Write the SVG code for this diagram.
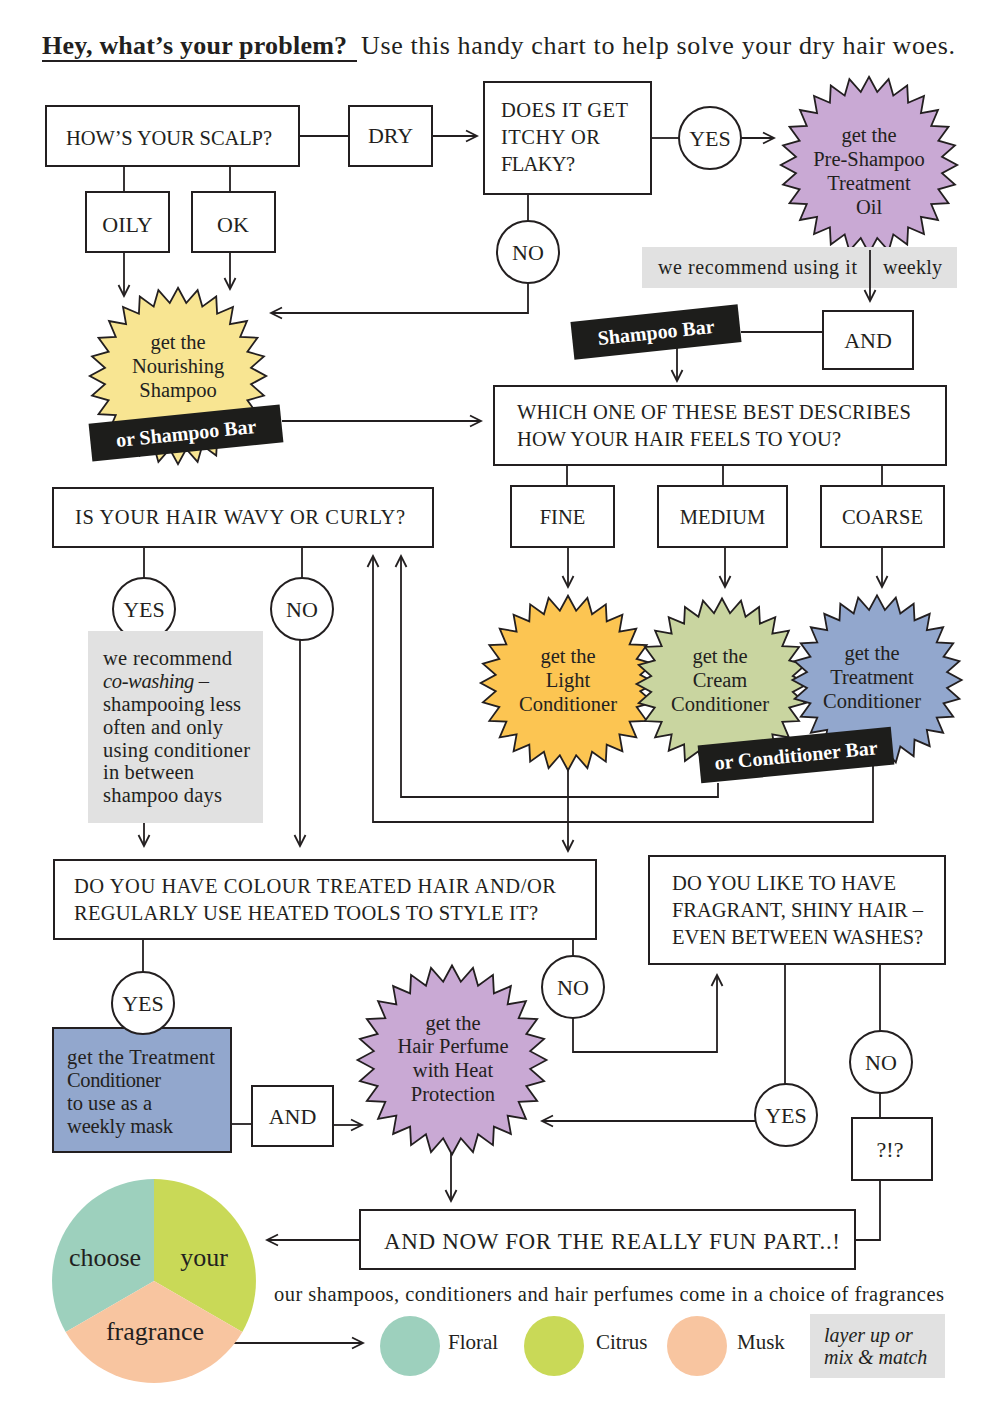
<svg xmlns="http://www.w3.org/2000/svg" xmlns:xlink="http://www.w3.org/1999/xlink" width="1000" height="1414" viewBox="0 0 1000 1414">
<style>
text{font-family:"Liberation Serif","DejaVu Serif",serif;fill:#231f20}
.box{fill:#fff;stroke:#231f20;stroke-width:2}
.circ{fill:#fff;stroke:#231f20;stroke-width:2}
.cap{font-size:20.5px}
.lbl{font-size:22px}
.burst-t{font-size:20.5px;text-anchor:middle}
.body{font-size:20.5px}
.conn path{fill:none;stroke:#231f20;stroke-width:1.8}
.arr{marker-end:url(#ah)}
.banner rect{fill:#1d1d1b}
.banner text{fill:#fff;font-weight:bold;font-size:20px;text-anchor:middle}
.grey{fill:#e1e1e1}
</style>
<defs>
<marker id="ah" markerUnits="userSpaceOnUse" markerWidth="14" markerHeight="14" refX="12" refY="6" orient="auto" viewBox="0 0 14 12">
<path d="M1,0.5 L12,6 L1,11.5" fill="none" stroke="#231f20" stroke-width="1.8"/>
</marker>
<polygon id="burst" stroke="#231f20" stroke-width="1.8" vector-effect="non-scaling-stroke" points="0,-90 8.4,-74.5 20,-87.7 24.8,-70.8 39,-81.1 39.9,-63.5 56.1,-70.4 53,-53 70.4,-56.1 63.5,-39.9 81.1,-39 70.8,-24.8 87.7,-20 74.5,-8.4 90,0 74.5,8.4 87.7,20 70.8,24.8 81.1,39 63.5,39.9 70.4,56.1 53,53 56.1,70.4 39.9,63.5 39,81.1 24.8,70.8 20,87.7 8.4,74.5 0,90 -8.4,74.5 -20,87.7 -24.8,70.8 -39,81.1 -39.9,63.5 -56.1,70.4 -53,53 -70.4,56.1 -63.5,39.9 -81.1,39 -70.8,24.8 -87.7,20 -74.5,8.4 -90,0 -74.5,-8.4 -87.7,-20 -70.8,-24.8 -81.1,-39 -63.5,-39.9 -70.4,-56.1 -53,-53 -56.1,-70.4 -39.9,-63.5 -39,-81.1 -24.8,-70.8 -20,-87.7 -8.4,-74.5"/>
</defs>
<rect width="1000" height="1414" fill="#fff"/>

<g id="title">
<text x="42" y="54" font-size="26" font-weight="bold" textLength="305">Hey, what’s your problem?</text>
<line x1="42" y1="61" x2="357" y2="61" stroke="#231f20" stroke-width="2"/>
<text x="361" y="54" font-size="26" textLength="594">Use this handy chart to help solve your dry hair woes.</text>
</g>

<g class="conn">
<path d="M299,136 H349"/>
<path class="arr" d="M432,136 H477"/>
<path d="M651,138 H679"/>
<path class="arr" d="M741,138 H774"/>
<path class="arr" d="M870,250 V301"/>
<path d="M124,166 V192 M230,166 V192"/>
<path class="arr" d="M124,252 V296"/>
<path class="arr" d="M230,252 V289"/>
<path d="M528,194 V221"/>
<path class="arr" d="M528,283 V313 H271"/>
<path class="arr" d="M282,421 H481"/>
<path d="M741,332 H823"/>
<path class="arr" d="M677,345 V381"/>
<path d="M567,465 V486 M723,465 V486 M882,465 V486"/>
<path class="arr" d="M568,547 V587"/>
<path class="arr" d="M725,547 V587"/>
<path class="arr" d="M882,547 V587"/>
<path class="arr" d="M568,770 V851"/>
<path class="arr" d="M718,783 V797 H401 V556"/>
<path class="arr" d="M873,765 V822 H373 V556"/>
<path d="M144,547 V578 M302,547 V578"/>
<path class="arr" d="M144,823 V846"/>
<path class="arr" d="M300,640 V846"/>
<path d="M143,939 V972"/>
<path d="M231,1124 H252"/>
<path class="arr" d="M333,1125 H362"/>
<path class="arr" d="M451,1153 V1201"/>
<path d="M573,939 V956"/>
<path class="arr" d="M573,1018 V1052 H717 V975"/>
<path d="M785,964 V1084"/>
<path class="arr" d="M755,1121 H542"/>
<path d="M880,964 V1031 M880,1093 V1118"/>
<path d="M880,1180 V1240 H855"/>
<path class="arr" d="M360,1240 H267"/>
<path class="arr" d="M232,1343 H363"/>
</g>

<g id="scalp">
<rect class="box" x="46" y="106" width="253" height="60"/>
<text class="cap" x="66" y="145" textLength="206">HOW’S YOUR SCALP?</text>
</g>
<g id="dry">
<rect class="box" x="349" y="106" width="83" height="60"/>
<text class="lbl" x="390.5" y="143" text-anchor="middle">DRY</text>
</g>
<g id="itchy">
<rect class="box" x="484" y="82" width="167" height="112"/>
<text class="cap" x="501" y="117" textLength="127">DOES IT GET</text>
<text class="cap" x="501" y="144" textLength="99">ITCHY OR</text>
<text class="cap" x="501" y="171" textLength="74">FLAKY?</text>
</g>
<g id="yes1">
<circle class="circ" cx="710" cy="138" r="31"/>
<text class="lbl" x="710" y="146" text-anchor="middle">YES</text>
</g>
<g id="preshampoo">
<use xlink:href="#burst" href="#burst" transform="translate(869,165) scale(0.98)" fill="#c9a9d4"/>
<text class="burst-t" x="869" y="142">get the</text>
<text class="burst-t" x="869" y="166">Pre-Shampoo</text>
<text class="burst-t" x="869" y="190">Treatment</text>
<text class="burst-t" x="869" y="214">Oil</text>
</g>
<g id="weekly">
<rect class="grey" x="642" y="247" width="315" height="41"/>
<text x="658" y="274" font-size="20" textLength="199">we recommend using it</text>
<text x="883" y="274" font-size="20" textLength="59">weekly</text>
<line x1="870" y1="250" x2="870" y2="288" stroke="#231f20" stroke-width="1.8"/>
</g>
<g id="oily">
<rect class="box" x="86" y="192" width="83" height="60"/>
<text class="lbl" x="127.5" y="232" text-anchor="middle">OILY</text>
</g>
<g id="ok">
<rect class="box" x="192" y="192" width="83" height="60"/>
<text class="lbl" x="233" y="232" text-anchor="middle">OK</text>
</g>
<g id="no1">
<circle class="circ" cx="528" cy="252" r="31"/>
<text class="lbl" x="528" y="260" text-anchor="middle">NO</text>
</g>
<g id="nourishing">
<use xlink:href="#burst" href="#burst" transform="translate(178,376) scale(0.98)" fill="#f8e592"/>
<text class="burst-t" x="178" y="349">get the</text>
<text class="burst-t" x="178" y="373">Nourishing</text>
<text class="burst-t" x="178" y="397">Shampoo</text>
<g class="banner" transform="translate(186,433) rotate(-5.8)">
<rect x="-96" y="-19" width="192" height="38"/>
<text x="0" y="7">or  Shampoo Bar</text>
</g>
</g>
<g id="shampoobar" class="banner" transform="translate(656,332) rotate(-6)">
<rect x="-84" y="-19" width="168" height="38"/>
<text x="0" y="7" font-size="19">Shampoo Bar</text>
</g>
<g id="and1">
<rect class="box" x="823" y="311" width="90" height="58"/>
<text class="lbl" x="868" y="348" text-anchor="middle">AND</text>
</g>
<g id="which">
<rect class="box" x="494" y="386" width="452" height="79"/>
<text class="cap" x="517" y="419" textLength="394">WHICH ONE OF THESE BEST DESCRIBES</text>
<text class="cap" x="517" y="446" textLength="324">HOW YOUR HAIR FEELS TO YOU?</text>
</g>
<g id="fine">
<rect class="box" x="511" y="486" width="103" height="61"/>
<text class="cap" x="562.5" y="524" text-anchor="middle">FINE</text>
</g>
<g id="medium">
<rect class="box" x="658" y="486" width="129" height="61"/>
<text class="cap" x="722.5" y="524" text-anchor="middle">MEDIUM</text>
</g>
<g id="coarse">
<rect class="box" x="821" y="486" width="123" height="61"/>
<text class="cap" x="882.5" y="524" text-anchor="middle">COARSE</text>
</g>
<g id="light">
<use xlink:href="#burst" href="#burst" transform="translate(568,683) scale(0.97)" fill="#fcc552"/>
<text class="burst-t" x="568" y="663">get the</text>
<text class="burst-t" x="568" y="687">Light</text>
<text class="burst-t" x="568" y="711">Conditioner</text>
</g>
<g id="cream">
<use xlink:href="#burst" href="#burst" transform="translate(722,684) scale(0.95)" fill="#c9d5a0"/>
<text class="burst-t" x="720" y="663">get the</text>
<text class="burst-t" x="720" y="687">Cream</text>
<text class="burst-t" x="720" y="711">Conditioner</text>
</g>
<g id="treatment">
<use xlink:href="#burst" href="#burst" transform="translate(877,680) scale(0.94)" fill="#92a7cd"/>
<text class="burst-t" x="872" y="660">get the</text>
<text class="burst-t" x="872" y="684">Treatment</text>
<text class="burst-t" x="872" y="708">Conditioner</text>
</g>
<g id="conditionerbar" class="banner" transform="translate(796,755) rotate(-5.5)">
<rect x="-97" y="-19" width="194" height="38"/>
<text x="0" y="7" font-size="20.5">or Conditioner Bar</text>
</g>
<g id="wavy">
<rect class="box" x="53" y="488" width="380" height="59"/>
<text class="cap" x="75" y="524" textLength="330">IS YOUR HAIR WAVY OR CURLY?</text>
</g>
<g id="yes2">
<circle class="circ" cx="144" cy="609" r="31"/>
<text class="lbl" x="144" y="617" text-anchor="middle">YES</text>
</g>
<g id="no2">
<circle class="circ" cx="302" cy="609" r="31"/>
<text class="lbl" x="302" y="617" text-anchor="middle">NO</text>
</g>
<g id="cowash">
<rect class="grey" x="88" y="631" width="175" height="192"/>
<text class="body" x="103" y="665" textLength="129">we recommend</text>
<text class="body" x="103" y="688" font-style="italic" textLength="106">co-washing –</text>
<text class="body" x="103" y="711" textLength="138">shampooing less</text>
<text class="body" x="103" y="734" textLength="120">often and only</text>
<text class="body" x="103" y="757" textLength="147">using conditioner</text>
<text class="body" x="103" y="779" textLength="91">in between</text>
<text class="body" x="103" y="802" textLength="119">shampoo days</text>
</g>
<g id="colour">
<rect class="box" x="54" y="860" width="542" height="79"/>
<text class="cap" x="74" y="893" textLength="482">DO YOU HAVE COLOUR TREATED HAIR AND/OR</text>
<text class="cap" x="74" y="920" textLength="464">REGULARLY USE HEATED TOOLS TO STYLE IT?</text>
</g>
<g id="mask">
<rect x="53" y="1028" width="178" height="124" fill="#92a7cd" stroke="#231f20" stroke-width="2"/>
<text class="body" x="67" y="1064" textLength="148">get the Treatment</text>
<text class="body" x="67" y="1087" textLength="94">Conditioner</text>
<text class="body" x="67" y="1110" textLength="85">to use as a</text>
<text class="body" x="67" y="1133" textLength="106">weekly mask</text>
</g>
<g id="yes3">
<circle class="circ" cx="143" cy="1003" r="31"/>
<text class="lbl" x="143" y="1011" text-anchor="middle">YES</text>
</g>
<g id="and2">
<rect class="box" x="252" y="1086" width="81" height="60"/>
<text class="lbl" x="292.5" y="1124" text-anchor="middle">AND</text>
</g>
<g id="perfume">
<use xlink:href="#burst" href="#burst" transform="translate(452,1060) scale(1.05)" fill="#c9a9d4"/>
<text class="burst-t" x="453" y="1030">get the</text>
<text class="burst-t" x="453" y="1053">Hair Perfume</text>
<text class="burst-t" x="453" y="1077">with Heat</text>
<text class="burst-t" x="453" y="1101">Protection</text>
</g>
<g id="no3">
<circle class="circ" cx="573" cy="987" r="31"/>
<text class="lbl" x="573" y="995" text-anchor="middle">NO</text>
</g>
<g id="fragrant">
<rect class="box" x="649" y="856" width="296" height="108"/>
<text class="cap" x="672" y="890" textLength="224">DO YOU LIKE TO HAVE</text>
<text class="cap" x="672" y="917" textLength="251">FRAGRANT, SHINY HAIR –</text>
<text class="cap" x="672" y="944" textLength="251">EVEN BETWEEN WASHES?</text>
</g>
<g id="yes4">
<circle class="circ" cx="786" cy="1115" r="31"/>
<text class="lbl" x="786" y="1123" text-anchor="middle">YES</text>
</g>
<g id="no4">
<circle class="circ" cx="881" cy="1062" r="31"/>
<text class="lbl" x="881" y="1070" text-anchor="middle">NO</text>
</g>
<g id="huh">
<rect class="box" x="852" y="1118" width="80" height="62"/>
<text class="lbl" x="890" y="1157" text-anchor="middle">?!?</text>
</g>
<g id="funpart">
<rect class="box" x="360" y="1210" width="495" height="59"/>
<text x="384" y="1249" font-size="23" textLength="456">AND NOW FOR THE REALLY FUN PART..!</text>
</g>
<g id="pie">
<path d="M154,1281 L154,1179 A102,102 0 0,0 65.7,1332 Z" fill="#9dd0bd"/>
<path d="M154,1281 L154,1179 A102,102 0 0,1 242.3,1332 Z" fill="#c9d957"/>
<path d="M154,1281 L65.7,1332 A102,102 0 0,0 242.3,1332 Z" fill="#f8c5a0"/>
<text x="105" y="1266" font-size="26" text-anchor="middle">choose</text>
<text x="204" y="1266" font-size="26" text-anchor="middle">your</text>
<text x="155" y="1340" font-size="26" text-anchor="middle">fragrance</text>
</g>
<g id="fragrances">
<text x="274" y="1301" font-size="20.5" textLength="670">our shampoos, conditioners and hair perfumes come in a choice of fragrances</text>
<circle cx="410" cy="1346" r="30" fill="#9dd0bd"/>
<text x="448" y="1349" font-size="21">Floral</text>
<circle cx="554" cy="1346" r="30" fill="#c9d957"/>
<text x="596" y="1349" font-size="21">Citrus</text>
<circle cx="697" cy="1346" r="30" fill="#f8c5a0"/>
<text x="737" y="1349" font-size="21">Musk</text>
<rect class="grey" x="810" y="1314" width="135" height="64"/>
<text x="824" y="1342" font-size="20" font-style="italic">layer up or</text>
<text x="824" y="1364" font-size="20" font-style="italic">mix &amp; match</text>
</g>
</svg>
